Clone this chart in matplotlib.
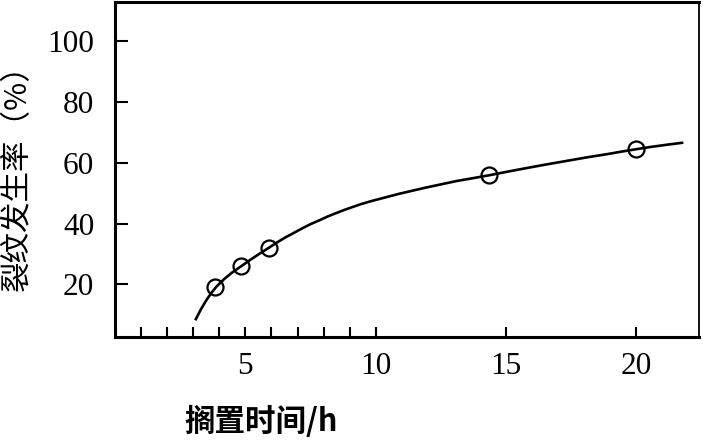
import matplotlib.pyplot as plt

# fitted curve
curve_x = [3.1, 3.3, 3.5, 3.7, 3.9, 4.2, 4.5, 4.85, 5.2, 5.55, 5.9, 6.2, 6.55, 6.9,
           7.2, 7.5, 7.85, 8.15, 8.5, 8.8, 9.1, 9.4, 9.75, 10.1, 10.5, 10.9, 11.4,
           11.9, 12.5, 13.1, 13.7, 14.35, 15.0, 15.8, 16.5, 17.3, 18.1, 18.9, 19.5,
           20.0, 20.6, 21.2, 21.75]
curve_y = [8.5, 11.8, 14.7, 17.2, 19.3, 21.8, 23.9, 26.0, 28.1, 30.1, 32.0, 33.7, 35.5, 37.1,
           38.5, 39.8, 41.1, 42.3, 43.5, 44.5, 45.4, 46.3, 47.2, 48.0, 48.9, 49.8, 50.8,
           51.8, 52.9, 54.0, 54.9, 55.9, 57.0, 58.3, 59.4, 60.6, 61.8, 62.9, 63.8,
           64.5, 65.3, 66.0, 66.6]

# measured points
point_x = [3.85, 4.84, 5.9, 14.36, 20.0]
point_y = [19.0, 25.9, 31.9, 55.9, 64.5]

x_ticks = [1, 2, 3, 4, 5, 6, 7, 8, 9, 10, 15, 20]
x_labels = ["", "", "", "", "5", "", "", "", "", "10", "15", "20"]
y_ticks = [20, 40, 60, 80, 100]

serif = ["Liberation Serif", "DejaVu Serif"]
cjk = ["Noto Sans CJK SC", "Liberation Serif"]

fig = plt.figure(figsize=(7.03, 4.4), dpi=100)
ax = fig.add_axes([0.1636, 0.234, 0.9943 - 0.1636, 0.9955 - 0.234])

ax.plot(curve_x, curve_y, color="black", lw=1.9, zorder=2)
ax.plot(point_x, point_y, "o", ms=11.5, mfc="none", mec="black", mew=1.6, zorder=3)

ax.set_xlim(0, 22.4)
ax.set_ylim(2.6, 113)

ax.set_xticks(x_ticks)
ax.set_xticklabels(x_labels, fontfamily=serif, fontsize=22.5)
ax.set_yticks(y_ticks)
ax.set_yticklabels([str(v) for v in y_ticks], fontfamily=serif, fontsize=22.5)
ax.tick_params(axis="x", direction="in", length=7, width=1.5, pad=11)
ax.tick_params(axis="y", direction="in", length=9.5, width=1.5, pad=15)

for side in ["left", "bottom", "top"]:
    ax.spines[side].set_linewidth(2.2)
ax.spines["right"].set_linewidth(1.3)

fig.text(0.024, 0.614, "裂纹发生率（%）", rotation=90, ha="center", va="center",
         fontsize=22, family=cjk)
fig.text(0.371, 0.041, "搁置时间/h", ha="center", va="center",
         fontsize=22, fontweight="bold", family=cjk)

fig.savefig("out.png", dpi=100)
